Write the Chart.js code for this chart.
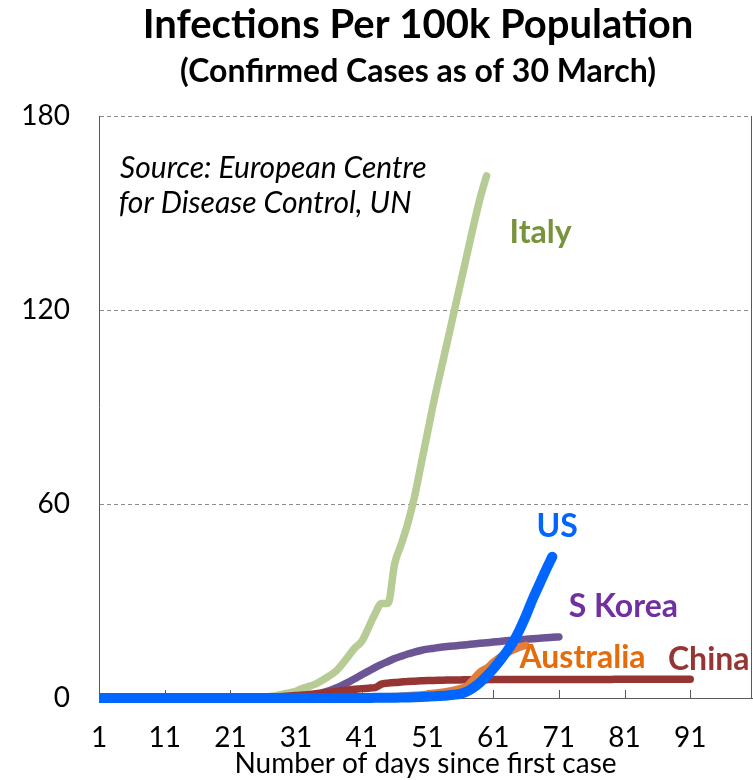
<!DOCTYPE html>
<html>
<head>
<meta charset="utf-8">
<title>Infections Per 100k Population</title>
<script src="https://cdn.jsdelivr.net/npm/chart.js@4.4.1/dist/chart.umd.min.js"></script>
<style>
  html, body { margin: 0; padding: 0; background: #fff; }
  #wrap { width: 753px; height: 780px; }
</style>
</head>
<body>
<div id="wrap"><canvas id="chart" width="753" height="780"></canvas></div>
<script>
  const title = "Infections Per 100k Population";
  const subtitle = "(Confirmed Cases as of 30 March)";
  const sourceNote = ["Source: European Centre", "for Disease Control, UN"];
  const xTitle = "Number of days since first case";
  const dayTicks = [1, 11, 21, 31, 41, 51, 61, 71, 81, 91];
  const valueTicks = [0, 60, 120, 180];

  // confirmed cases per 100k people, one value per day since the first case
  const italy = [
    0, 0, 0, 0, 0, 0, 0, 0, 0, 0,
    0, 0, 0, 0, 0, 0, 0, 0, 0, 0,
    0, 0, 0.02, 0.1, 0.2, 0.35, 0.5, 0.75, 1.2, 1.6,
    2.1, 3.0, 3.6, 4.4, 5.5, 6.8, 8.2, 10.4, 13.0, 15.6,
    17.5, 21.6, 26.0, 29.2, 29.3, 41.5, 47.5, 54, 62, 72,
    82, 92, 101, 110, 119, 128, 137, 146, 154.5, 161.5,
  ];
  const us = [
    0, 0, 0, 0, 0, 0, 0, 0, 0, 0,
    0, 0, 0, 0, 0, 0, 0, 0, 0, 0,
    0, 0, 0, 0, 0, 0, 0, 0, 0, 0,
    0, 0, 0, 0, 0, 0, 0, 0, 0, 0,
    0.02, 0.03, 0.04, 0.05, 0.07, 0.1, 0.13, 0.17, 0.22, 0.3,
    0.4, 0.5, 0.65, 0.8, 1.0, 1.3, 2.0, 3.2, 4.8, 6.8,
    9.0, 11.5, 14.2, 17.2, 21.0, 25.5, 30.5, 35.0, 39.5, 43.7,
  ];
  const korea = [
    0, 0, 0, 0, 0, 0, 0, 0, 0, 0.01,
    0.02, 0.02, 0.03, 0.03, 0.03, 0.03, 0.04, 0.04, 0.05, 0.05,
    0.05, 0.05, 0.05, 0.05, 0.05, 0.06, 0.06, 0.06, 0.06, 0.06,
    0.1, 0.25, 0.6, 1.0, 1.6, 2.2, 3.0, 3.9, 4.9, 6.0,
    7.2, 8.3, 9.4, 10.4, 11.3, 12.2, 12.9, 13.6, 14.2, 14.7,
    15.1, 15.4, 15.7, 15.9, 16.1, 16.3, 16.5, 16.7, 16.9, 17.1,
    17.3, 17.5, 17.7, 17.9, 18.0, 18.2, 18.3, 18.5, 18.6, 18.8,
    18.9,
  ];
  const australia = [
    0, 0.01, 0.01, 0.02, 0.02, 0.02, 0.02, 0.02, 0.02, 0.02,
    0.02, 0.02, 0.02, 0.02, 0.02, 0.02, 0.02, 0.02, 0.02, 0.02,
    0.02, 0.02, 0.02, 0.02, 0.02, 0.02, 0.02, 0.02, 0.02, 0.02,
    0.03, 0.04, 0.06, 0.08, 0.09, 0.1, 0.11, 0.12, 0.14, 0.16,
    0.2, 0.24, 0.27, 0.31, 0.37, 0.45, 0.55, 0.7, 0.82, 1.0,
    1.2, 1.45, 1.7, 2.0, 2.4, 2.9, 3.7, 5.8, 8.0, 9.2,
    11.0, 12.6, 13.8, 14.8, 15.7, 16.3,
  ];
  const china = [
    0, 0, 0, 0, 0, 0, 0, 0, 0, 0,
    0, 0, 0, 0, 0, 0, 0, 0, 0, 0,
    0.02, 0.03, 0.05, 0.07, 0.1, 0.16, 0.24, 0.36, 0.48, 0.61,
    0.75, 0.9, 1.1, 1.3, 1.55, 1.8, 2.05, 2.3, 2.5, 2.7,
    2.9, 3.05, 3.2, 4.3, 4.6, 4.8, 4.95, 5.1, 5.2, 5.3,
    5.4, 5.45, 5.5, 5.55, 5.58, 5.6, 5.62, 5.64, 5.66, 5.68,
    5.7, 5.7, 5.71, 5.71, 5.72, 5.72, 5.72, 5.73, 5.73, 5.73,
    5.74, 5.74, 5.74, 5.75, 5.75, 5.75, 5.76, 5.76, 5.76, 5.77,
    5.77, 5.77, 5.78, 5.78, 5.78, 5.79, 5.79, 5.79, 5.8, 5.8,
    5.8,
  ];

  const FONT = "Lato, 'Open Sans', sans-serif";
  const axisColor = "#595959";
  const gridColor = "#8c8c8c";

  function series(label, values, color, width) {
    return {
      label: label,
      data: values.map((v, i) => ({ x: i + 1, y: v })),
      borderColor: color,
      backgroundColor: color,
      borderWidth: width,
      borderCapStyle: "round",
      borderJoinStyle: "round",
      cubicInterpolationMode: "monotone",
      pointRadius: 0,
      fill: false,
      clip: { left: 0, top: false, right: false, bottom: false },
    };
  }

  // titles, series names, source note, inward tick marks and the right frame
  const overlay = {
    id: "overlay",
    beforeDatasetsDraw(chart, args, opts) {
      const { ctx, chartArea: a } = chart;
      const x = chart.scales.x;
      ctx.save();
      ctx.strokeStyle = axisColor;
      ctx.lineWidth = 1;
      ctx.beginPath();
      ctx.moveTo(a.right - 0.5, a.top);
      ctx.lineTo(a.right - 0.5, a.bottom);
      dayTicks.slice(1).forEach((d) => {
        const px = Math.round(x.getPixelForValue(d)) + 0.5;
        ctx.moveTo(px, a.bottom);
        ctx.lineTo(px, a.bottom - 8);
      });
      ctx.stroke();
      ctx.restore();
    },
    afterDatasetsDraw(chart, args, opts) {
      const { ctx } = chart;
      const x = chart.scales.x;
      const y = chart.scales.y;
      ctx.save();
      ctx.textBaseline = "alphabetic";
      ctx.textAlign = "left";
      opts.labels.forEach((l) => {
        ctx.font = l.font;
        ctx.fillStyle = l.color;
        ctx.fillText(l.text, x.getPixelForValue(l.day), y.getPixelForValue(l.value));
      });
      ctx.textAlign = "center";
      ctx.fillStyle = "#000";
      ctx.font = "bold 40px " + FONT;
      ctx.fillText(title, opts.titleX, 38);
      ctx.font = "bold 32px " + FONT;
      ctx.fillText(subtitle, opts.titleX, 82);
      ctx.restore();
    },
  };

  const nameFont = "bold 32px " + FONT;
  const noteFont = "italic 30px " + FONT;

  new Chart(document.getElementById("chart"), {
    type: "line",
    data: {
      datasets: [
        series("US", us, "#0066ff", 10),
        series("Australia", australia, "#e07e3a", 7.5),
        series("China", china, "#963634", 7.5),
        series("S Korea", korea, "#6c5594", 7.5),
        series("Italy", italy, "#b6cc94", 7.5),
      ],
    },
    options: {
      responsive: false,
      animation: false,
      devicePixelRatio: 1,
      layout: { padding: { top: 116, right: 1, left: 0, bottom: 0 } },
      plugins: {
        legend: { display: false },
        tooltip: { enabled: false },
        overlay: {
          titleX: 418,
          labels: [
            { text: "Italy", day: 63.5, value: 140.7, color: "#77933c", font: nameFont },
            { text: "US", day: 67.6, value: 49.8, color: "#0066ff", font: nameFont },
            { text: "S Korea", day: 72.5, value: 25.0, color: "#7030a0", font: nameFont },
            { text: "Australia", day: 65.0, value: 9.3, color: "#e46c0a", font: nameFont },
            { text: "China", day: 87.6, value: 8.7, color: "#963634", font: nameFont },
            { text: sourceNote[0], day: 4.2, value: 160.8, color: "#000", font: noteFont },
            { text: sourceNote[1], day: 4.0, value: 150.0, color: "#000", font: noteFont },
          ],
        },
      },
      scales: {
        x: {
          type: "linear",
          min: 1,
          max: 100.4,
          afterBuildTicks: (s) => {
            s.ticks = dayTicks.map((v) => ({ value: v }));
          },
          afterFit: (s) => {
            s.height = 82;
          },
          grid: { display: false, drawTicks: false },
          border: { display: true, color: axisColor, width: 1 },
          ticks: {
            color: "#000",
            font: { family: FONT, size: 28 },
            padding: 23,
            autoSkip: false,
            maxRotation: 0,
          },
          title: {
            display: true,
            text: xTitle,
            color: "#000",
            font: { family: FONT, size: 28, lineHeight: 1 },
            padding: { top: 0, bottom: 2 },
          },
        },
        y: {
          min: 0,
          max: 180,
          afterBuildTicks: (s) => {
            s.ticks = valueTicks.map((v) => ({ value: v }));
          },
          afterFit: (s) => {
            s.width = 99;
          },
          grid: {
            drawTicks: false,
            lineWidth: 1,
            color: (c) => (c.tick && c.tick.value === 0 ? "rgba(0,0,0,0)" : gridColor),
          },
          border: { display: true, color: axisColor, width: 1, dash: [4, 3] },
          ticks: {
            color: "#000",
            font: { family: FONT, size: 28 },
            padding: 29,
          },
        },
      },
    },
    plugins: [overlay],
  });
</script>
</body>
</html>
